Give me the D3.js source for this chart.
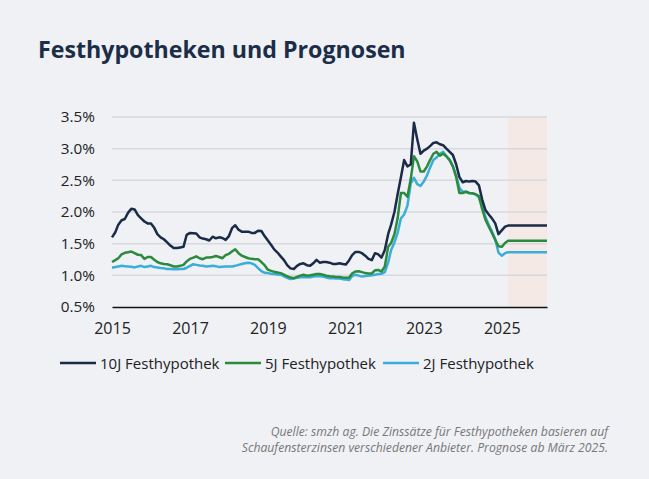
<!DOCTYPE html>
<html><head><meta charset="utf-8">
<script src="https://cdn.jsdelivr.net/npm/d3@7"></script>
<style>
html,body{margin:0;padding:0;background:#eff1f5;}
svg{display:block;}
</style></head>
<body>
<script>
const startYear = 2015, startMonth = 0, nMonths = 135; // Jan 2015 .. Mar 2026
const forecastStart = new Date(2025, 2, 1);
const yTicks = [0.5, 1.0, 1.5, 2.0, 2.5, 3.0, 3.5];
const xTickYears = [2015, 2017, 2019, 2021, 2023, 2025];
const seriesNames = ["10J Festhypothek", "5J Festhypothek", "2J Festhypothek"];
const seriesColors = ["#1b2a47", "#2b8a3e", "#3aadd9"];

const rate10 = [1.60,1.68,1.80,1.87,1.89,1.99,2.05,2.04,1.95,1.90,1.85,1.82,
 1.82,1.75,1.65,1.60,1.57,1.52,1.47,1.43,1.43,1.44,1.45,1.64,
 1.67,1.665,1.66,1.60,1.58,1.57,1.55,1.61,1.585,1.60,1.59,1.56,
 1.62,1.75,1.79,1.72,1.69,1.69,1.69,1.67,1.67,1.705,1.70,1.62,
 1.55,1.48,1.41,1.36,1.30,1.24,1.16,1.11,1.10,1.15,1.18,1.19,
 1.16,1.15,1.19,1.245,1.20,1.21,1.21,1.20,1.18,1.18,1.19,1.18,
 1.17,1.24,1.32,1.37,1.37,1.35,1.31,1.26,1.24,1.35,1.33,1.28,
 1.40,1.65,1.80,2.00,2.28,2.55,2.82,2.72,2.75,3.41,3.15,2.92,
 2.97,3.00,3.04,3.09,3.10,3.07,3.055,3.00,2.95,2.90,2.75,2.55,
 2.47,2.49,2.48,2.49,2.48,2.42,2.20,2.03,1.96,1.90,1.82,1.65,
 1.71,1.77,1.785,1.785,1.785,1.785,1.785,1.785,1.785,1.785,1.785,1.785,
 1.785,1.785,1.785];
const rate5 = [1.21,1.24,1.27,1.33,1.355,1.365,1.375,1.35,1.325,1.32,1.26,1.29,
 1.29,1.245,1.21,1.19,1.18,1.175,1.16,1.14,1.14,1.15,1.165,1.22,
 1.26,1.28,1.30,1.27,1.255,1.28,1.28,1.29,1.305,1.29,1.27,1.32,
 1.34,1.38,1.41,1.35,1.31,1.29,1.27,1.26,1.255,1.255,1.21,1.16,
 1.09,1.07,1.055,1.045,1.035,1.01,0.985,0.965,0.955,0.975,0.995,1.01,
 0.995,1.00,1.01,1.02,1.02,1.01,0.995,0.985,0.98,0.975,0.975,0.965,
 0.96,0.965,1.03,1.06,1.065,1.05,1.035,1.03,1.03,1.08,1.085,1.06,
 1.14,1.45,1.51,1.65,1.90,2.30,2.30,2.24,2.52,2.88,2.80,2.64,
 2.64,2.72,2.82,2.92,2.95,2.89,2.92,2.88,2.82,2.72,2.55,2.30,
 2.30,2.32,2.30,2.295,2.28,2.25,2.05,1.88,1.77,1.67,1.56,1.46,
 1.45,1.51,1.545,1.545,1.545,1.545,1.545,1.545,1.545,1.545,1.545,1.545,
 1.545,1.545,1.545];
const rate2 = [1.12,1.13,1.14,1.15,1.145,1.14,1.135,1.125,1.14,1.15,1.13,1.14,
 1.15,1.13,1.125,1.115,1.11,1.10,1.10,1.095,1.095,1.10,1.10,1.12,
 1.15,1.175,1.165,1.155,1.15,1.14,1.145,1.15,1.145,1.13,1.135,1.14,
 1.14,1.14,1.15,1.165,1.18,1.19,1.20,1.19,1.165,1.115,1.065,1.04,
 1.035,1.025,1.02,1.015,1.01,0.985,0.96,0.94,0.95,0.96,0.97,0.97,
 0.97,0.97,0.98,0.99,0.985,0.98,0.965,0.955,0.955,0.95,0.95,0.94,
 0.935,0.925,0.99,1.01,0.995,0.98,0.99,0.995,1.00,1.01,1.02,1.025,
 1.05,1.20,1.40,1.52,1.67,1.90,1.96,2.10,2.45,2.54,2.44,2.41,
 2.48,2.58,2.70,2.82,2.86,2.92,2.95,2.88,2.82,2.72,2.57,2.38,
 2.32,2.32,2.30,2.29,2.28,2.23,2.10,1.92,1.80,1.69,1.57,1.36,
 1.31,1.35,1.365,1.365,1.365,1.365,1.365,1.365,1.365,1.365,1.365,1.365,
 1.365,1.365,1.365];

const dates = d3.range(nMonths).map(i => new Date(startYear, startMonth + i, 1));
const series = [rate10, rate5, rate2];

const W = 649, H = 479;
const svg = d3.select("body").append("svg").attr("width", W).attr("height", H);
svg.append("rect").attr("width", W).attr("height", H).attr("fill", "#eff1f5");

const x = d3.scaleTime().domain([dates[0], dates[dates.length - 1]]).range([112, 547]);
const y = d3.scaleLinear().domain([0.5, 3.5]).range([307, 117]);

// title
svg.append("text").attr("x", 38).attr("y", 57.5)
  .attr("font-family", "'Open Sans', sans-serif").attr("font-weight", 700)
  .attr("font-size", 23.2).attr("fill", "#1b2d47")
  .text("Festhypotheken und Prognosen");

// forecast shading
svg.append("rect")
  .attr("x", x(forecastStart)).attr("y", y(3.5))
  .attr("width", x(dates[dates.length - 1]) - x(forecastStart))
  .attr("height", y(0.5) - y(3.5))
  .attr("fill", "#f5e9e5");

// gridlines
svg.append("g").selectAll("line").data(yTicks.filter(d => d > 0.5)).join("line")
  .attr("x1", 112).attr("x2", 547)
  .attr("y1", d => y(d)).attr("y2", d => y(d))
  .attr("stroke", "#d8d9dc").attr("stroke-width", 1.5);

// y axis
const yAxis = svg.append("g").attr("transform", "translate(112,0)")
  .call(d3.axisLeft(y).tickValues(yTicks).tickSize(0).tickPadding(17)
    .tickFormat(d => d.toFixed(1) + "%"));
yAxis.select(".domain").remove();
yAxis.selectAll("text").attr("font-family", "'Open Sans', sans-serif")
  .attr("font-size", 15.3).attr("fill", "#222");

// x axis
const xAxis = svg.append("g").attr("transform", "translate(0,307)")
  .call(d3.axisBottom(x).tickValues(xTickYears.map(yy => new Date(yy, 0, 1)))
    .tickSize(0).tickPadding(16).tickFormat(d3.timeFormat("%Y")));
xAxis.select(".domain").attr("stroke", "#111").attr("stroke-width", 1.5);
xAxis.selectAll("text").attr("font-family", "'Open Sans', sans-serif")
  .attr("font-size", 16).attr("fill", "#222");

// lines
const line = d3.line().x((d, i) => x(dates[i])).y(d => y(d)).curve(d3.curveLinear);
[2, 1, 0].forEach(k => {
  svg.append("path").datum(series[k])
    .attr("d", line).attr("fill", "none")
    .attr("stroke", seriesColors[k]).attr("stroke-width", 2.5)
    .attr("stroke-linejoin", "round");
});

// legend
const legendX = [60, 225, 383];
const lg = svg.append("g");
seriesNames.forEach((n, i) => {
  lg.append("line").attr("x1", legendX[i]).attr("x2", legendX[i] + 36)
    .attr("y1", 363).attr("y2", 363)
    .attr("stroke", seriesColors[i]).attr("stroke-width", 2.5);
  lg.append("text").attr("x", legendX[i] + 40).attr("y", 368.5)
    .attr("font-family", "'Open Sans', sans-serif").attr("font-size", 15)
    .attr("fill", "#222").text(n);
});

// source note
const note = ["Quelle: smzh ag. Die Zinssätze für Festhypotheken basieren auf",
  "Schaufensterzinsen verschiedener Anbieter. Prognose ab März 2025."];
svg.append("g").selectAll("text").data(note).join("text")
  .attr("x", 608).attr("y", (d, i) => 436 + i * 16)
  .attr("text-anchor", "end").attr("font-family", "'Open Sans', sans-serif")
  .attr("font-style", "italic").attr("font-size", 12.2).attr("fill", "#777")
  .text(d => d);
</script>
</body></html>
